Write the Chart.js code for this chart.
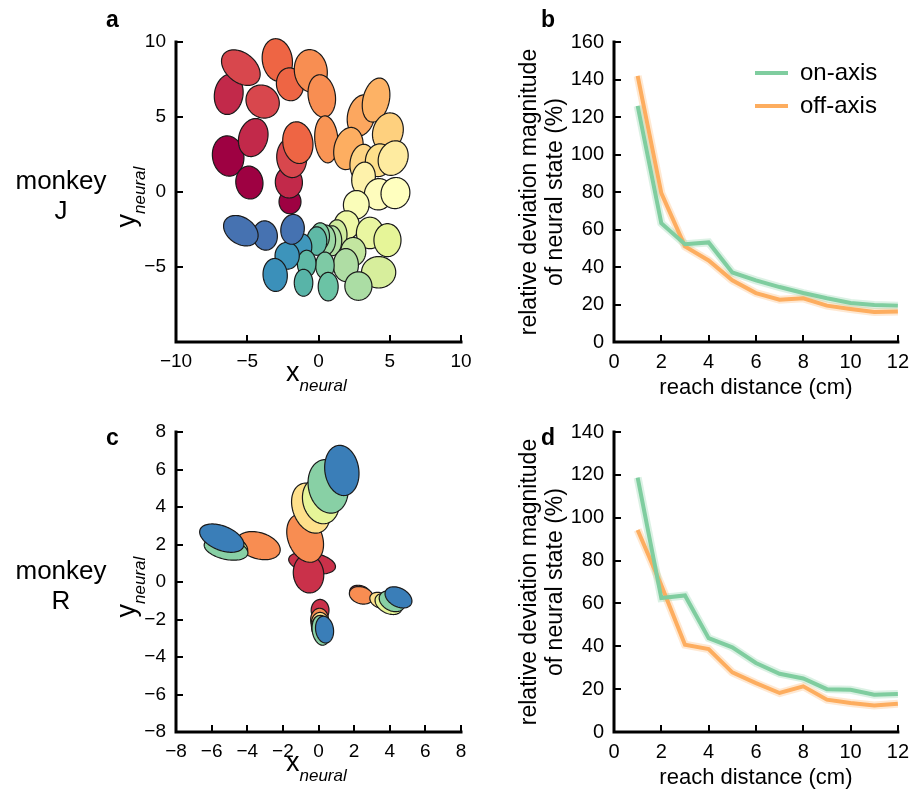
<!DOCTYPE html>
<html>
<head>
<meta charset="utf-8">
<script src="https://cdn.jsdelivr.net/npm/chart.js@4"></script>
<style>
  html, body { margin:0; padding:0; background:#fff; width:917px; height:790px; overflow:hidden; }
  body { position:relative; font-family:"Liberation Sans", Arial, sans-serif; color:#000; }
  .cv { position:absolute; }
  .lbl { position:absolute; white-space:nowrap; line-height:1; }
  .panel { font-weight:bold; font-size:23px; }
  .monkey { font-size:26px; text-align:center; width:120px; }
  .axl { font-size:27px; line-height:27px; }
  .axl i { font-size:17px; position:relative; top:10px; }
</style>
</head>
<body>
<canvas id="ca" class="cv" width="380" height="410" style="left:100px;top:0px"></canvas>
<canvas id="cb" class="cv" width="400" height="410" style="left:517px;top:0px"></canvas>
<canvas id="cc" class="cv" width="380" height="410" style="left:100px;top:390px"></canvas>
<canvas id="cd" class="cv" width="400" height="410" style="left:517px;top:390px"></canvas>

<div class="lbl panel" style="left:106px;top:8px">a</div>
<div class="lbl panel" style="left:541px;top:8px">b</div>
<div class="lbl panel" style="left:106px;top:426px">c</div>
<div class="lbl panel" style="left:541px;top:426px">d</div>

<div class="lbl monkey" style="left:1px;top:167px">monkey</div>
<div class="lbl monkey" style="left:1px;top:197px">J</div>
<div class="lbl monkey" style="left:1px;top:557px">monkey</div>
<div class="lbl monkey" style="left:1px;top:587px">R</div>

<div class="lbl axl" style="left:286px;top:359px">x<i>neural</i></div>
<div class="lbl axl" style="left:286px;top:749px">x<i>neural</i></div>
<div class="lbl axl" style="left:95px;top:183px;width:62px;height:27px;transform:rotate(-90deg);transform-origin:31px 13.5px">y<i>neural</i></div>
<div class="lbl axl" style="left:95px;top:573px;width:62px;height:27px;transform:rotate(-90deg);transform-origin:31px 13.5px">y<i>neural</i></div>

<script>
// ---------------- DATA ----------------
// Panel a (monkey J): neural-state covariance ellipses (data units)
const jCx  = [-6.34,-4.85,-2.00,-6.30,-4.58,-2.08,-5.45,-3.92,-1.88,-2.89,-2.00,-1.45,-0.54, 0.23, 0.55, 3.00, 4.04, 2.10, 4.87, 3.07, 4.25, 5.24, 3.16, 4.22, 5.40, 2.65, 1.98, 3.61, 4.84, 4.22, 1.30, 2.44, 0.95, 0.50, 1.92, 2.80, 0.12,-0.12, 0.45, 0.68,-1.12,-0.83,-1.05,-2.20,-3.04,-1.82,-3.74,-5.45];
const jCy  = [ 2.40, 0.63,-0.65, 6.51, 3.63, 0.65, 8.29, 6.03, 2.29, 8.80, 7.18, 3.29, 8.07, 6.40, 3.51, 5.10, 6.13, 2.90, 4.00, 1.96, 2.12, 2.26, 0.90,-0.15,-0.07,-0.85,-2.20,-2.73,-3.21,-5.35,-2.85,-3.98,-3.25,-3.20,-4.87,-6.27,-2.95,-3.27,-4.90,-6.31,-3.65,-4.78,-6.05,-4.25,-5.53,-2.49,-2.90,-2.58];
const jRa  = [ 1.35, 1.10, 0.80, 1.35, 1.30, 1.05, 1.50, 1.20, 1.33, 1.43, 1.10, 1.40, 1.43, 1.43, 1.57, 1.40, 1.50, 1.43, 1.30, 1.23, 1.10, 1.20, 1.10, 1.05, 1.05, 0.95, 0.95, 1.05, 1.10, 1.20, 1.00, 0.95, 1.00, 1.00, 1.10, 0.95, 0.90, 0.95, 0.90, 0.95, 0.85, 0.90, 0.90, 0.90, 1.10, 1.00, 0.98, 1.30];
const jRb  = [ 1.10, 0.95, 0.77, 1.00, 1.00, 0.95, 1.00, 1.07, 1.05, 1.05, 0.95, 1.05, 1.15, 0.95, 0.81, 0.95, 0.92, 1.00, 1.05, 0.85, 0.95, 1.00, 0.82, 1.00, 1.00, 0.90, 0.88, 0.95, 0.95, 1.05, 0.70, 0.88, 0.68, 0.70, 0.88, 0.95, 0.65, 0.70, 0.65, 0.70, 0.65, 0.65, 0.65, 0.85, 0.85, 0.82, 0.85, 0.90];
const jAng = [ 100, 100,  90,  80,  70,  95, -35, -30,  95, 100, 100, 100, 100, 100,  95,  75,  75,  75,  70,  80,  75,  60,  80,  70,  60,  80,  90,  90,  90,   0,  90,  90,  90,  90,  90,  90,  90,  90,  90,  90,  90,  90,  90,  90,  95,  80, 100, -30];
const jCol = ['#9e0142','#9e0142','#9e0142','#c2294a','#c2294a','#c2294a','#d8474d','#d8474d','#d8474d','#ee6544','#ee6544','#ee6544','#f88e52','#f88e52','#f99555','#fca75f','#fdb265','#fdae61','#fed07e','#fed585','#fee08b','#feeba0','#fef2ab','#fefcbd','#ffffbf','#fafdb9','#eef8a6','#e9f6a1','#e6f598','#d7ee9c','#d0eb9e','#c3e6a0','#b2e0a3','#9dd8a4','#afdda4','#abdda4','#82cda5','#5fb9a6','#7ecaa5','#6bc3a5','#3f97bc','#5fb9a6','#58b4a8','#3d94bb','#3b90ba','#4572b1','#4672b1','#4672b1'];
const jYTicks = [-5, 0, 5, 10];

// Panel c (monkey R)
const rCx  = [-0.36,-0.56,-0.75,-0.43, 0.13, 0.54, 1.31,-3.37,-5.11,-5.05,-5.19,-5.43, 2.34, 2.40, 3.46, 3.93, 4.12, 4.49, 0.09, 0.06, 0.09, 0.11, 0.15, 0.34];
const rCy  = [ 1.01, 0.44, 2.34, 3.94, 4.33, 5.10, 5.95, 1.94, 1.94, 1.90, 1.76, 2.34,-0.59,-0.71,-0.98,-1.17,-1.03,-0.82,-1.51,-2.00,-2.22,-2.40,-2.58,-2.54];
const rRa  = [ 1.33, 1.03, 1.35, 1.40, 1.25, 1.45, 1.35, 1.25, 1.10, 1.10, 1.25, 1.30, 0.60, 0.68, 0.60, 0.80, 0.75, 0.80, 0.58, 0.60, 0.60, 0.62, 0.80, 0.72];
const rRb  = [ 0.55, 0.85, 0.95, 1.00, 1.00, 1.10, 0.95, 0.70, 0.60, 0.60, 0.55, 0.65, 0.40, 0.45, 0.40, 0.50, 0.50, 0.50, 0.50, 0.50, 0.50, 0.50, 0.50, 0.50];
const rAng = [ -10, 100, 115, 115, 110, 105, 100, -15, -15, -15, -12, -20, -15, -15, -20, -25, -25, -25,  90,  90,  90,  90, 100, 100];
const rCol = ['#ca314a','#ca314a','#f88d52','#fee08b','#e6f598','#88d0a5','#3a7eb8','#f88d52','#fee08b','#e6f598','#88d0a5','#3a7eb8','#ca314a','#f88d52','#fee08b','#e6f598','#88d0a5','#3a7eb8','#ca314a','#f88d52','#fee08b','#e6f598','#88d0a5','#3a7eb8'];
const rYTicks = [-8, -6, -4, -2, 0, 2, 4, 6, 8];

// Panels b and d: relative deviation magnitude vs reach distance
const reachCm  = [1,2,3,4,5,6,7,8,9,10,11,12];
const onAxisJ  = [125.9,63.4,52.2,53.1,37.1,32.9,29.3,26.1,23.3,20.8,19.7,19.4];
const offAxisJ = [141.9,79.4,51.0,43.5,32.9,26.1,22.6,23.3,19.4,17.6,16.0,16.3];
const onAxisR  = [118.7,62.5,63.7,43.8,39.5,32.2,27.2,25.0,20.0,19.7,17.4,17.7];
const offAxisR = [94.3,68.5,40.7,38.7,27.8,22.8,18.2,21.3,15.1,13.5,12.4,13.2];
const seriesNames = ['on-axis','off-axis'];

// ---------------- STYLE ----------------
const GREEN = '#7fcd9f', ORANGE = '#fdad5f';
Chart.defaults.font.family = '"Liberation Sans", Arial, sans-serif';
Chart.defaults.color = '#000';
Chart.defaults.animation = false;
Chart.defaults.devicePixelRatio = 1;
const minus = v => String(v).replace('-', '\u2212');

const axesPlugin = {
  id: 'inwardAxes',
  afterDraw(chart) {
    const {ctx, chartArea: a, scales: {x, y}} = chart;
    ctx.save();
    ctx.strokeStyle = '#000';
    ctx.lineWidth = 2;
    ctx.beginPath();
    x.ticks.forEach(t => { const p = Math.round(x.getPixelForValue(t.value)); ctx.moveTo(p, a.bottom); ctx.lineTo(p, a.bottom - 7); });
    y.ticks.forEach(t => { const p = Math.round(y.getPixelForValue(t.value)); ctx.moveTo(a.left, p); ctx.lineTo(a.left + 7, p); });
    ctx.stroke();
    ctx.lineWidth = 3;
    ctx.lineCap = 'square';
    ctx.lineJoin = 'miter';
    ctx.beginPath();
    ctx.moveTo(a.left, y.getPixelForValue(y.max));
    ctx.lineTo(a.left, a.bottom);
    ctx.lineTo(x.getPixelForValue(x.max), a.bottom);
    ctx.stroke();
    ctx.restore();
  }
};

const ellipsePlugin = {
  id: 'ellipses',
  afterDatasetsDraw(chart) {
    const {ctx, scales: {x, y}} = chart;
    const ds = chart.data.datasets[0];
    ctx.save();
    ctx.lineWidth = 1.2;
    ctx.strokeStyle = '#1a1a1a';
    ds.data.forEach((d, i) => {
      const th = ds.ang[i] * Math.PI / 180, c = Math.cos(th), s = Math.sin(th);
      ctx.beginPath();
      for (let k = 0; k <= 96; k++) {
        const t = k / 96 * 2 * Math.PI;
        const u = ds.ra[i] * Math.cos(t), v = ds.rb[i] * Math.sin(t);
        const px = x.getPixelForValue(d.x + u * c - v * s);
        const py = y.getPixelForValue(d.y + u * s + v * c);
        if (k === 0) ctx.moveTo(px, py); else ctx.lineTo(px, py);
      }
      ctx.closePath();
      ctx.fillStyle = ds.colors[i];
      ctx.fill();
      ctx.stroke();
    });
    ctx.restore();
  }
};

const legendPlugin = {
  id: 'insideLegend',
  afterDraw(chart, args, opts) {
    if (!opts.show) return;
    const {ctx, chartArea: a} = chart;
    ctx.save();
    ctx.font = '24px "Liberation Sans", Arial, sans-serif';
    ctx.textBaseline = 'middle';
    ctx.textAlign = 'left';
    chart.data.datasets.filter(d => d.inLegend).forEach((d, i) => {
      const yy = a.top + 31 + i * 33;
      ctx.strokeStyle = d.borderColor;
      ctx.lineWidth = 4;
      ctx.beginPath(); ctx.moveTo(a.left + 141, yy); ctx.lineTo(a.left + 174, yy); ctx.stroke();
      ctx.fillStyle = '#000';
      ctx.fillText(d.label, a.left + 186, yy);
    });
    ctx.restore();
  }
};

function ellipseChart(id, cx, cy, ra, rb, ang, cols, lim, step, yTicks) {
  return new Chart(document.getElementById(id), {
    type: 'scatter',
    data: { datasets: [{ data: cx.map((v, i) => ({x: v, y: cy[i]})), ra: ra, rb: rb, ang: ang, colors: cols, pointRadius: 0 }] },
    options: {
      responsive: false,
      layout: { padding: { top: 42, right: 19, left: 0, bottom: 0 } },
      plugins: { legend: { display: false }, tooltip: { enabled: false } },
      scales: {
        x: { type: 'linear', min: -lim, max: lim, border: { display: false }, grid: { display: false, drawTicks: false },
             ticks: { stepSize: step, padding: 8, font: { size: 19 }, callback: minus, maxRotation: 0 },
             afterFit: s => { s.height = 68; } },
        y: { type: 'linear', min: -lim, max: lim, border: { display: false }, grid: { display: false, drawTicks: false },
             ticks: { stepSize: step, padding: 10, font: { size: 19 }, callback: minus },
             afterBuildTicks: s => { s.ticks = yTicks.map(v => ({value: v})); },
             afterFit: s => { s.width = 76; } }
      }
    },
    plugins: [ellipsePlugin, axesPlugin]
  });
}

function lineChart(id, onV, offV, ymax, showLegend) {
  const pts = arr => reachCm.map((d, i) => ({x: d, y: arr[i]}));
  return new Chart(document.getElementById(id), {
    type: 'line',
    data: { datasets: [
      { label: seriesNames[0], data: pts(onV), borderColor: GREEN, borderWidth: 4, pointRadius: 0, tension: 0, order: 0, inLegend: true },
      { label: seriesNames[1], data: pts(offV), borderColor: ORANGE, borderWidth: 4, pointRadius: 0, tension: 0, order: 0, inLegend: true },
      { label: 'on band', data: pts(onV), borderColor: 'rgba(127,205,159,0.28)', borderWidth: 8, pointRadius: 0, tension: 0, order: 1 },
      { label: 'off band', data: pts(offV), borderColor: 'rgba(253,173,95,0.28)', borderWidth: 8, pointRadius: 0, tension: 0, order: 1 }
    ] },
    options: {
      responsive: false,
      layout: { padding: { top: 42, right: 16, left: 0, bottom: 0 } },
      plugins: { legend: { display: false }, tooltip: { enabled: false }, insideLegend: { show: showLegend } },
      scales: {
        x: { type: 'linear', min: 0, max: 12, border: { display: false }, grid: { display: false, drawTicks: false },
             ticks: { stepSize: 2, padding: 8, font: { size: 20 }, maxRotation: 0 },
             title: { display: true, text: 'reach distance (cm)', font: { size: 22 }, padding: { top: 0, bottom: 9 } },
             afterFit: s => { s.height = 68; } },
        y: { type: 'linear', min: 0, max: ymax, border: { display: false }, grid: { display: false, drawTicks: false },
             ticks: { stepSize: 20, padding: 10, font: { size: 20 } },
             title: { display: true, text: ['relative deviation magnitude', 'of neural state (%)'], font: { size: 23, lineHeight: 1.13 }, padding: { top: 0, bottom: 0 } },
             afterFit: s => { s.width = 97; } }
      }
    },
    plugins: [axesPlugin, legendPlugin]
  });
}

ellipseChart('ca', jCx, jCy, jRa, jRb, jAng, jCol, 10, 5, jYTicks);
ellipseChart('cc', rCx, rCy, rRa, rRb, rAng, rCol, 8, 2, rYTicks);
lineChart('cb', onAxisJ, offAxisJ, 160, true);
lineChart('cd', onAxisR, offAxisR, 140, false);
</script>
</body>
</html>
